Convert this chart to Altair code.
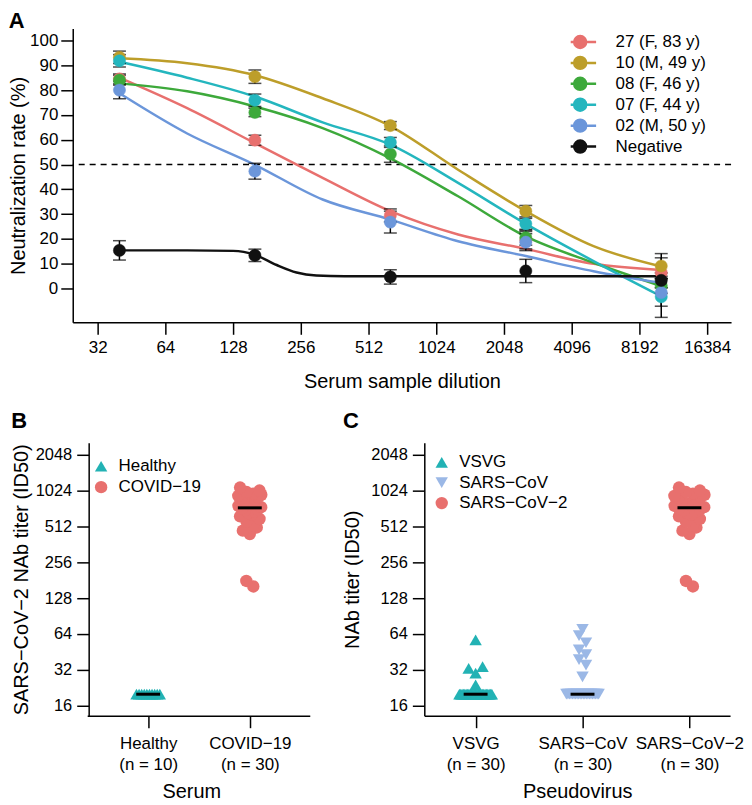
import altair as alt
import pandas as pd

FONT = "Liberation Sans"

# ---------------- Panel A data ----------------
dilutions = [40, 160, 640, 2560, 10240]
series_names = ["27 (F, 83 y)", "10 (M, 49 y)", "08 (F, 46 y)", "07 (F, 44 y)", "02 (M, 50 y)", "Negative"]
series_colors = ["#E8706E", "#BD9E2A", "#3DA93B", "#24B6BE", "#6B96DA", "#111111"]

rate_27 = [84.5, 59.8, 29.5, 19.5, 6.4]
rate_10 = [93.2, 85.4, 65.7, 31.2, 9.1]
rate_08 = [84.0, 71.0, 54.2, 20.5, 1.1]
rate_07 = [91.8, 75.9, 58.9, 26.1, -3.3]
rate_02 = [80.0, 47.3, 26.8, 18.7, -1.6]
rate_neg = [15.4, 13.4, 4.7, 7.1, 3.3]

sd_27 = [2.0, 2.0, 2.6, 3.5, 6.0]
sd_10 = [2.5, 2.7, 1.6, 2.3, 5.0]
sd_08 = [2.0, 1.7, 3.3, 3.0, 3.0]
sd_07 = [2.5, 2.5, 2.0, 2.2, 8.3]
sd_02 = [3.5, 3.2, 4.4, 3.4, 5.5]
sd_neg = [3.9, 2.5, 2.9, 4.7, 3.0]

# fitted curves
curve_dil = [40, 80, 160, 320, 640, 1280, 2560, 5120, 10240]
curve_27 = [85.0, 72.7, 58.6, 44.6, 31.2, 21.8, 16.0, 10.0, 7.5]
curve_10 = [92.8, 90.8, 86.0, 76.7, 65.5, 47.9, 31.2, 17.1, 8.9]
curve_08 = [82.7, 79.5, 73.4, 64.7, 52.5, 37.2, 21.0, 10.4, 1.0]
curve_07 = [91.4, 85.0, 77.4, 67.0, 58.0, 42.6, 26.1, 11.1, -3.1]
curve_02 = [78.7, 62.5, 49.9, 35.9, 27.8, 19.1, 13.1, 7.0, 2.3]
neg_curve_dil = [40, 80, 128, 160, 200, 245, 300, 400, 640, 2560, 10240]
neg_curve = [15.4, 15.4, 15.2, 13.6, 9.5, 6.5, 5.3, 5.0, 5.0, 5.0, 5.0]

dil_ticks = [32, 64, 128, 256, 512, 1024, 2048, 4096, 8192, 16384]
rate_ticks = [0, 10, 20, 30, 40, 50, 60, 70, 80, 90, 100]
cutoff = [50]

# ---------------- Panel B / C data ----------------
b_groups = ["Healthy", "COVID\u221219"]
b_colors = ["#22B2B4", "#E8706E"]
b_shapes = ["triangle-up", "circle"]
healthy_titer = [20, 20, 20, 20, 20, 20, 20, 20, 20, 20]
covid_titer = [160, 178, 440, 470, 500, 520, 560, 590, 620, 640, 660, 680, 700, 710, 720,
               740, 760, 780, 800, 820, 840, 860, 880, 900, 920, 940, 960, 990, 1020, 1080]

c_groups = ["VSVG", "SARS\u2212CoV", "SARS\u2212CoV\u22122"]
c_colors = ["#22B2B4", "#9BB8E6", "#E8706E"]
c_shapes = ["triangle-up", "triangle-down", "circle"]
vsvg_titer = [57, 34, 33, 30, 24, 20, 20, 20, 20, 20, 20, 20, 20, 20, 20, 20, 20, 20, 20, 20,
              20, 20, 20, 20, 20, 20, 20, 20, 20, 20]
sarscov_titer = [70, 62, 54, 47, 43, 39, 35, 28, 20, 20, 20, 20, 20, 20, 20, 20, 20, 20, 20, 20,
                 20, 20, 20, 20, 20, 20, 20, 20, 20, 20]
sarscov2_titer = covid_titer

titer_ticks = [16, 32, 64, 128, 256, 512, 1024, 2048]

# ---------------- build tables ----------------
rates = [rate_27, rate_10, rate_08, rate_07, rate_02, rate_neg]
sds = [sd_27, sd_10, sd_08, sd_07, sd_02, sd_neg]
pts_rows = []
for name, r, s in zip(series_names, rates, sds):
    for d, v, e in zip(dilutions, r, s):
        pts_rows.append({"series": name, "dil": d, "rate": v, "sd": e})
pts_df = pd.DataFrame(pts_rows)

cur_rows = []
for name, c in zip(series_names[:5], [curve_27, curve_10, curve_08, curve_07, curve_02]):
    for d, v in zip(curve_dil, c):
        cur_rows.append({"series": name, "dil": d, "rate": v})
for d, v in zip(neg_curve_dil, neg_curve):
    cur_rows.append({"series": "Negative", "dil": d, "rate": v})
cur_df = pd.DataFrame(cur_rows)

b_rows = [{"grpB": b_groups[0], "pos": 1, "titer": v} for v in healthy_titer] + \
         [{"grpB": b_groups[1], "pos": 2, "titer": v} for v in covid_titer]
b_df = pd.DataFrame(b_rows)
c_rows = [{"grpC": c_groups[0], "pos": 1, "titer": v} for v in vsvg_titer] + \
         [{"grpC": c_groups[1], "pos": 2, "titer": v} for v in sarscov_titer] + \
         [{"grpC": c_groups[2], "pos": 3, "titer": v} for v in sarscov2_titer]
c_df = pd.DataFrame(c_rows)

# ---------------- Panel A chart ----------------
xsA = alt.Scale(type="log", base=2, domain=[24.8, 20920], nice=False)
ysA = alt.Scale(domain=[-13.6, 104.8], nice=False, zero=False)
xaxA = alt.Axis(values=dil_ticks, format="d", title="Serum sample dilution",
                labelPadding=5, titlePadding=16, labelOverlap=False, labelFlush=False)
yaxA = alt.Axis(values=rate_ticks, format="d", title="Neutralization rate (%)",
                labelPadding=3, titlePadding=1, labelOverlap=False, labelFlush=False)


def xA(f="dil"):
    return alt.X(f + ":Q", scale=xsA, axis=xaxA)


def yA(f="rate"):
    return alt.Y(f + ":Q", scale=ysA, axis=yaxA)


cscale = alt.Scale(domain=series_names, range=series_colors)
legA = alt.Legend(title=None, orient="none", legendX=500, legendY=5, padding=0,
                  symbolType="M-2,0L2,0M-0.75,0A0.75,0.75,0,1,0,0.75,0A0.75,0.75,0,1,0,-0.75,0Z",
                  symbolSize=256, symbolStrokeWidth=2.5, labelOffset=26, rowPadding=3,
                  clipHeight=17, labelFontSize=17, labelFont=FONT, labelColor="black")

cut_layer = alt.Chart(pd.DataFrame({"rate": cutoff})).mark_rule(
    color="black", strokeWidth=1.5, strokeDash=[6, 5]).encode(y=yA())

curve_layer = alt.Chart(cur_df).mark_line(strokeWidth=2.5, interpolate="monotone").encode(
    x=xA(), y=yA(), stroke=alt.Stroke("series:N", scale=cscale, legend=legA))

err_base = alt.Chart(pts_df).transform_calculate(
    lo="datum.rate - datum.sd", hi="datum.rate + datum.sd")
err_rule = err_base.mark_rule(color="black", strokeWidth=1.5).encode(
    x=xA(), y=yA("lo"), y2="hi:Q")
cap_lo = err_base.mark_tick(orient="horizontal", size=13, thickness=1.5, color="black").encode(
    x=xA(), y=yA("lo"))
cap_hi = err_base.mark_tick(orient="horizontal", size=13, thickness=1.5, color="black").encode(
    x=xA(), y=yA("hi"))

pt_layer = alt.Chart(pts_df).mark_point(filled=True, size=150, opacity=1, strokeWidth=0.5).encode(
    x=xA(), y=yA(),
    fill=alt.Fill("series:N", scale=cscale, legend=legA),
    stroke=alt.Stroke("series:N", scale=cscale, legend=legA))

chartA = alt.layer(cut_layer, curve_layer, err_rule, cap_lo, cap_hi, pt_layer).properties(
    width=661, height=295,
    title=alt.TitleParams("A", anchor="start", frame="bounds", fontSize=22, fontWeight="bold",
                          font=FONT, color="black", offset=-4))


# ---------------- Panel B / C charts ----------------
def titer_panel(df, gfield, groups, shapes, colors, px_per_unit, span, xdomain, label_expr,
                xtitle, ytitle, letter, width, rowpad, yoffset, legx, legy, tpad):
    xs = alt.Scale(domain=xdomain, nice=False, zero=False)
    ys = alt.Scale(type="log", base=2, domain=[13.2, 2560], nice=False)
    xax = alt.Axis(values=list(range(1, len(groups) + 1)), labelExpr=label_expr, title=xtitle,
                   labelPadding=8, titlePadding=9, labelLineHeight=21, labelFlush=False,
                   labelOverlap=False)
    yax = alt.Axis(values=titer_ticks, format="d", title=ytitle, labelPadding=5, titlePadding=tpad,
                   labelOverlap=False, labelFlush=False, labelFontSize=16.5, offset=yoffset)
    leg = alt.Legend(title=None, orient="none", legendX=legx, legendY=legy, padding=0,
                     symbolSize=155, labelOffset=9, rowPadding=rowpad, labelFontSize=17,
                     labelFont=FONT, labelColor="black", symbolStrokeWidth=0)
    base = alt.Chart(df)
    pts = base.transform_calculate(
        lv="log(datum.titer) / LN2"
    ).transform_calculate(
        ybin="floor(datum.lv / 0.3)"
    ).transform_window(
        rk="row_number()", groupby=[gfield, "ybin"], sort=[alt.SortField("titer")]
    ).transform_joinaggregate(
        cnt="count()", groupby=[gfield, "ybin"]
    ).transform_calculate(
        slot="((datum.rk - 1) % 2 == 0 ? (datum.rk - 1) / 2 : -datum.rk / 2)"
             " + (datum.cnt % 2 == 0 ? 0.5 : 0)"
    ).transform_calculate(
        xj=f"datum.pos + datum.slot * min(7, {span} / datum.cnt) / {px_per_unit}"
    ).mark_point(filled=True, size=155, opacity=1).encode(
        x=alt.X("xj:Q", scale=xs, axis=xax),
        y=alt.Y("titer:Q", scale=ys, axis=yax),
        color=alt.Color(gfield + ":N", scale=alt.Scale(domain=groups, range=colors), legend=leg),
        shape=alt.Shape(gfield + ":N", scale=alt.Scale(domain=groups, range=shapes), legend=leg),
    )
    med = base.mark_tick(orient="horizontal", size=24, thickness=3, color="black").encode(
        x=alt.X("pos:Q", scale=xs, axis=xax),
        y=alt.Y("median(titer):Q", scale=ys, axis=yax))
    layers = [pts, med]
    if yoffset < 0:
        # hide the stub of the x axis line left of the inset y axis
        mask = alt.Chart(pd.DataFrame({"m": [0]})).mark_rect(color="white").encode(
            x=alt.value(-2), x2=alt.value(-yoffset - 1), y=alt.value(270), y2=alt.value(279))
        layers.append(mask)
    return alt.layer(*layers).properties(
        width=width, height=274,
        title=alt.TitleParams(letter, anchor="start", frame="bounds", fontSize=22,
                              fontWeight="bold", font=FONT, color="black", offset=10))


chartB = titer_panel(
    b_df, "grpB", b_groups, b_shapes, b_colors, 102, 26, [0.258, 2.59],
    "datum.value == 1 ? ['Healthy', '(n = 10)'] : ['COVID\u221219', '(n = 30)']",
    "Serum", "SARS\u2212CoV\u22122 NAb titer (ID50)", "B", 238, 3, -16, 20, 15, 4)

chartC = titer_panel(
    c_df, "grpC", c_groups, c_shapes, c_colors, 107.5, 34, [0.52, 3.38],
    "datum.value == 1 ? ['VSVG', '(n = 30)'] : datum.value == 2 ? ['SARS\u2212CoV', '(n = 30)']"
    " : ['SARS\u2212CoV\u22122', '(n = 30)']",
    "Pseudovirus", "NAb titer (ID50)", "C", 307, 2.5, 0, 9, 11, 8)

bottom = alt.hconcat(chartB, chartC, spacing=33).resolve_scale(
    color="independent", shape="independent", x="independent", y="independent"
).resolve_legend(color="independent", shape="independent")

chart = alt.concat(chartA, bottom, columns=1, align="none", spacing=19).resolve_scale(
    color="independent", shape="independent", fill="independent", stroke="independent",
    x="independent", y="independent"
).resolve_legend(color="independent", shape="independent", fill="independent",
                 stroke="independent").properties(
    padding=0, background="white"
).configure(font=FONT).configure_view(stroke=None).configure_axis(
    domainColor="black", domainWidth=1.5, tickColor="black", tickWidth=1.5, tickSize=12,
    labelColor="black", labelFont=FONT, labelFontSize=17, titleFont=FONT, titleFontSize=20,
    titleFontWeight="normal", titleColor="black", grid=False
)

chart.save("out.html", embed_options={"renderer": "svg", "actions": False})
